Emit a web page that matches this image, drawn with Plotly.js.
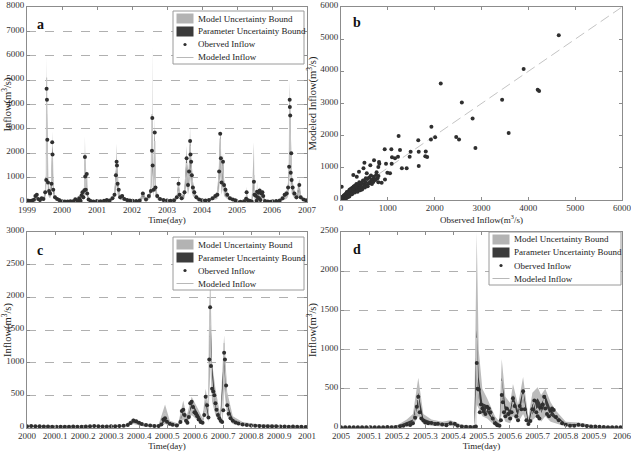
<!DOCTYPE html>
<html>
<head>
<meta charset="utf-8">
<script src="https://cdn.plot.ly/plotly-3.0.1.min.js"></script>
<style>
  html, body { margin: 0; padding: 0; background: #fff; }
  #chart { width: 631px; height: 451px; }
</style>
</head>
<body>
<div id="chart"></div>
<script>
// ---------- (a) calibration period 1999-2007, daily inflow (m3/s) ----------
const tA = [1999.00, 1999.05, 1999.10, 1999.15, 1999.20, 1999.24, 1999.28, 1999.32, 1999.37, 1999.42, 1999.47, 1999.52, 1999.55, 1999.56, 1999.57, 1999.58, 1999.60, 1999.63, 1999.66, 1999.70, 1999.72, 1999.73, 1999.75, 1999.80, 1999.86, 1999.92,
  2000.00, 2000.08, 2000.16, 2000.24, 2000.32, 2000.38, 2000.44, 2000.49, 2000.53, 2000.56, 2000.585, 2000.61, 2000.64, 2000.655, 2000.665, 2000.68, 2000.707, 2000.72, 2000.76, 2000.82, 2000.90,
  2001.00, 2001.10, 2001.20, 2001.28, 2001.36, 2001.44, 2001.50, 2001.54, 2001.56, 2001.57, 2001.59, 2001.62, 2001.66, 2001.72, 2001.78, 2001.86, 2001.94,
  2002.02, 2002.12, 2002.22, 2002.31, 2002.40, 2002.48, 2002.54, 2002.57, 2002.58, 2002.59, 2002.62, 2002.65, 2002.67, 2002.72, 2002.80, 2002.90,
  2003.00, 2003.10, 2003.20, 2003.28, 2003.33, 2003.36, 2003.42, 2003.50, 2003.56, 2003.60, 2003.63, 2003.66, 2003.67, 2003.69, 2003.71, 2003.74, 2003.78, 2003.84, 2003.92,
  2004.00, 2004.10, 2004.20, 2004.30, 2004.38, 2004.44, 2004.49, 2004.52, 2004.54, 2004.56, 2004.60, 2004.63, 2004.67, 2004.72, 2004.80, 2004.88, 2004.95,
  2005.00, 2005.10, 2005.20, 2005.26, 2005.275, 2005.30, 2005.36, 2005.42, 2005.483, 2005.50, 2005.53, 2005.56, 2005.572, 2005.59, 2005.612, 2005.63, 2005.648, 2005.67, 2005.70, 2005.726, 2005.75, 2005.80, 2005.88, 2005.95,
  2006.02, 2006.12, 2006.22, 2006.30, 2006.36, 2006.42, 2006.46, 2006.49, 2006.505, 2006.51, 2006.52, 2006.535, 2006.55, 2006.56, 2006.59, 2006.64, 2006.70, 2006.78, 2006.82, 2006.90, 2006.97];
const obsA = [60, 50, 45, 60, 90, 250, 300, 120, 80, 150, 120, 400, 900, 4650, 4200, 2550, 800, 450, 350, 750, 2450, 1950, 500, 200, 120, 80,
  30, 25, 20, 30, 35, 110, 40, 150, 50, 280, 400, 200, 480, 1850, 1050, 500, 1150, 350, 100, 40, 25,
  40, 35, 50, 80, 60, 150, 300, 1100, 1650, 1500, 750, 500, 200, 250, 120, 80, 60,
  50, 45, 60, 350, 100, 250, 450, 2100, 3450, 1500, 500, 2850, 600, 250, 120, 80,
  60, 50, 70, 200, 750, 300, 150, 400, 1800, 700, 1250, 2500, 1950, 1650, 1100, 600, 400, 200, 100,
  70, 60, 80, 150, 250, 300, 1250, 2800, 1800, 800, 1650, 700, 500, 300, 150, 100, 70,
  15, 12, 30, 130, 400, 80, 50, 20, 830, 300, 270, 50, 420, 200, 380, 150, 470, 80, 350, 400, 250, 40, 20, 12,
  30, 40, 60, 150, 300, 350, 600, 1450, 4200, 3900, 3550, 1200, 2000, 900, 600, 350, 200, 700, 200, 100, 70];
const simA = [55, 50, 48, 55, 80, 220, 260, 130, 90, 130, 110, 350, 1100, 5100, 3600, 2300, 900, 500, 400, 800, 2000, 1800, 550, 220, 130, 85,
  30, 25, 22, 28, 35, 100, 45, 180, 60, 250, 380, 220, 450, 2000, 1000, 520, 1200, 380, 110, 45, 28,
  40, 38, 48, 75, 62, 140, 320, 1000, 1500, 1300, 800, 450, 220, 230, 130, 85, 60,
  52, 48, 58, 300, 110, 230, 480, 3600, 3120, 1700, 550, 2500, 650, 270, 130, 85,
  62, 52, 68, 180, 700, 320, 160, 380, 1600, 800, 1300, 2300, 1900, 1500, 1000, 650, 420, 220, 110,
  72, 60, 78, 140, 230, 320, 1200, 2600, 1700, 850, 1500, 650, 520, 320, 160, 105, 72,
  15, 12, 28, 150, 380, 90, 55, 22, 1100, 320, 260, 60, 450, 220, 350, 170, 420, 100, 320, 380, 240, 45, 22, 14,
  30, 42, 58, 140, 280, 330, 560, 1300, 3900, 3700, 3400, 1300, 1900, 1000, 620, 370, 210, 650, 220, 110, 72];
const mLoA = [20, 20, 15, 20, 30, 100, 120, 50, 30, 60, 40, 150, 400, 2000, 1800, 1000, 300, 200, 150, 300, 900, 800, 200, 80, 50, 30,
  10, 10, 8, 10, 12, 40, 15, 60, 20, 100, 150, 80, 200, 800, 400, 200, 500, 150, 40, 15, 10,
  15, 12, 18, 30, 20, 60, 120, 400, 700, 600, 300, 180, 80, 90, 50, 30, 20,
  18, 15, 20, 120, 40, 90, 180, 900, 1500, 600, 200, 1100, 250, 100, 50, 30,
  20, 18, 25, 70, 280, 120, 60, 150, 700, 300, 500, 1000, 800, 650, 400, 250, 160, 80, 40,
  25, 20, 30, 60, 90, 120, 500, 1100, 700, 300, 650, 250, 200, 120, 60, 40, 25,
  5, 4, 10, 50, 150, 30, 18, 8, 300, 120, 100, 20, 160, 80, 140, 60, 180, 30, 130, 150, 90, 15, 8, 5,
  10, 15, 20, 55, 110, 130, 220, 550, 1700, 1600, 1400, 500, 800, 350, 240, 140, 80, 260, 80, 40, 25];
const mHiA = [90, 80, 75, 90, 130, 330, 380, 180, 130, 200, 170, 520, 1300, 5950, 4500, 2900, 1050, 600, 480, 1000, 2900, 2300, 700, 290, 170, 110,
  45, 40, 35, 45, 55, 150, 70, 300, 90, 380, 520, 300, 650, 2700, 1300, 650, 1400, 480, 150, 65, 45,
  60, 55, 70, 120, 90, 200, 450, 1400, 2400, 1800, 1000, 650, 300, 320, 180, 120, 90,
  75, 70, 85, 450, 150, 330, 650, 2600, 6400, 2000, 750, 3500, 850, 360, 180, 120,
  90, 75, 100, 270, 1100, 420, 220, 550, 2300, 1000, 1600, 3100, 2400, 2000, 1400, 850, 560, 300, 150,
  105, 90, 115, 210, 340, 450, 1600, 2950, 2200, 1100, 2000, 900, 700, 450, 220, 150, 105,
  25, 22, 45, 280, 630, 130, 80, 35, 2450, 480, 380, 90, 870, 320, 520, 230, 650, 130, 480, 500, 350, 65, 35, 22,
  45, 60, 85, 210, 420, 480, 800, 1900, 5000, 4600, 4200, 1700, 2600, 1300, 850, 500, 300, 950, 300, 150, 105];
const pLoA = [40, 35, 35, 40, 60, 180, 200, 100, 70, 100, 80, 280, 800, 4000, 3000, 1800, 700, 380, 300, 600, 1600, 1400, 420, 170, 100, 65,
  20, 18, 15, 20, 25, 80, 30, 130, 40, 190, 300, 170, 350, 1500, 800, 420, 950, 300, 85, 35, 20,
  30, 28, 38, 60, 48, 110, 250, 800, 1200, 1050, 650, 360, 170, 180, 100, 65, 48,
  40, 36, 45, 240, 85, 180, 380, 1600, 2800, 1300, 440, 2000, 520, 210, 100, 65,
  48, 40, 55, 140, 560, 250, 120, 300, 1300, 650, 1050, 1850, 1500, 1200, 800, 520, 340, 170, 85,
  55, 48, 60, 110, 180, 250, 950, 2100, 1350, 680, 1200, 520, 420, 250, 120, 80, 55,
  10, 8, 20, 110, 300, 70, 40, 15, 700, 250, 200, 45, 350, 170, 280, 130, 330, 75, 250, 300, 190, 35, 16, 10,
  22, 32, 45, 110, 220, 260, 450, 1050, 3200, 3000, 2700, 1050, 1500, 800, 500, 300, 170, 520, 170, 85, 55];
const pHiA = [75, 65, 60, 70, 100, 260, 310, 160, 110, 160, 140, 420, 1000, 4700, 4000, 2500, 900, 520, 420, 800, 2300, 2000, 600, 250, 150, 100,
  40, 35, 30, 38, 45, 130, 60, 200, 70, 300, 440, 250, 520, 1900, 1100, 560, 1200, 420, 120, 55, 36,
  52, 48, 60, 95, 78, 175, 360, 1150, 1700, 1550, 850, 540, 240, 270, 150, 100, 72,
  65, 60, 72, 360, 120, 270, 520, 2200, 3500, 1700, 600, 2900, 700, 300, 150, 100,
  78, 65, 85, 210, 800, 360, 180, 440, 1850, 850, 1350, 2550, 2050, 1700, 1150, 700, 480, 240, 125,
  90, 75, 95, 170, 280, 360, 1300, 2850, 1850, 900, 1700, 750, 580, 360, 180, 125, 88,
  20, 16, 36, 170, 440, 100, 62, 28, 1000, 360, 300, 70, 500, 240, 400, 190, 500, 110, 370, 430, 270, 52, 27, 18,
  38, 50, 70, 165, 320, 380, 640, 1500, 4250, 4000, 3600, 1350, 2050, 1050, 680, 410, 240, 750, 240, 125, 85];

// ---------- (b) observed vs modeled inflow, calibration ----------
const obsB = [5, 10, 15, 20, 25, 30, 35, 40, 45, 50, 55, 60, 65, 70, 75, 80, 85, 90, 95, 100, 105, 110, 115, 120, 125, 130, 135, 140, 145, 150,
  160, 165, 170, 175, 180, 185, 190, 195, 200, 210, 215, 220, 230, 240, 250, 260, 270, 280, 290, 300,
  310, 320, 330, 340, 350, 360, 370, 380, 390, 400, 420, 440, 460, 480, 500, 520, 540, 560, 580, 600,
  620, 650, 680, 700, 720, 750, 780, 800,
  15, 263, 384, 337, 550, 480, 797, 939, 868, 500, 705, 626, 812, 819, 797, 961, 1082, 990, 1047,
  933, 1075, 1260, 1217, 1089, 1153, 1230, 1487, 1466, 1402, 1300, 1650, 1660, 1660, 1810, 1800, 1840, 1930, 2010, 1920,
  2130, 2580, 2810, 2870, 2460, 2520, 3440, 3580, 3900, 4200, 4230, 4650,
  12, 28, 42, 58, 72, 88, 102, 118, 132, 148, 62, 34, 22, 8, 155, 178, 205, 235, 265, 295,
  325, 355, 410, 430, 450, 470, 510, 530, 570, 610, 640, 660, 690, 740, 760];
const simB = [10, 30, 5, 40, 15, 60, 25, 80, 35, 100, 50, 20, 120, 70, 40, 150, 90, 60, 180, 110, 80, 200, 130, 100, 250, 150, 90, 220, 170, 120,
  260, 190, 140, 300, 210, 160, 330, 240, 180, 280, 350, 200, 300, 380, 260, 330, 420, 290, 350, 450,
  320, 380, 500, 350, 420, 300, 480, 400, 550, 360, 460, 520, 400, 600, 480, 560, 450, 650, 520, 700,
  560, 640, 600, 720, 650, 780, 680, 750,
  410, 777, 880, 725, 830, 985, 555, 637, 533, 1160, 1233, 1078, 1182, 1130, 1026, 1130, 1130, 850, 830,
  1575, 1575, 1554, 1347, 1326, 1295, 1990, 1503, 1347, 985, 985, 1860, 1500, 1060, 1510, 1360, 1340, 2280, 1950, 1880,
  3620, 3030, 2530, 1620, 1960, 1880, 3120, 2080, 4070, 3430, 3390, 5120,
  60, 20, 110, 30, 150, 50, 170, 60, 230, 90, 140, 90, 70, 50, 210, 110, 320, 180, 340, 230,
  410, 260, 300, 540, 330, 610, 390, 680, 430, 520, 760, 500, 560, 620, 860];
const oneToOne = [0, 6000];

// ---------- (c) year 2000 ----------
const tC = [2000.000, 2000.015, 2000.030, 2000.045, 2000.060, 2000.075, 2000.090, 2000.105, 2000.120, 2000.135, 2000.150, 2000.165, 2000.180, 2000.195, 2000.210, 2000.225, 2000.240, 2000.255, 2000.270, 2000.285, 2000.300, 2000.315, 2000.330, 2000.345, 2000.360,
  2000.370, 2000.380, 2000.390, 2000.400, 2000.410, 2000.425, 2000.440, 2000.455, 2000.470,
  2000.480, 2000.487, 2000.493, 2000.500, 2000.510, 2000.520, 2000.535,
  2000.548, 2000.553, 2000.558, 2000.563, 2000.568, 2000.573, 2000.578, 2000.583, 2000.588, 2000.593, 2000.598, 2000.603, 2000.608, 2000.613, 2000.620, 2000.627,
  2000.633, 2000.638, 2000.643, 2000.648, 2000.651, 2000.654, 2000.657, 2000.661, 2000.665, 2000.669, 2000.673, 2000.677, 2000.682, 2000.687, 2000.692, 2000.697,
  2000.701, 2000.704, 2000.707, 2000.711, 2000.715, 2000.720, 2000.727, 2000.735, 2000.745, 2000.755, 2000.770, 2000.785, 2000.800,
  2000.815, 2000.830, 2000.845, 2000.860, 2000.875, 2000.890, 2000.905, 2000.920, 2000.935, 2000.950, 2000.965, 2000.980, 2000.995];
const obsC = [28, 30, 27, 25, 24, 22, 20, 21, 19, 18, 20, 22, 21, 20, 23, 26, 30, 27, 24, 22, 25, 28, 30, 34, 45,
  75, 115, 105, 80, 60, 45, 38, 32, 30,
  55, 130, 150, 95, 65, 50, 40,
  90, 260, 280, 200, 110, 80, 170, 380, 400, 320, 240, 220, 180, 130, 90, 80,
  200, 480, 350, 160, 1050, 1850, 950, 600, 560, 500, 380, 280, 200, 150, 110, 90,
  270, 1150, 1050, 650, 350, 220, 150, 110, 85, 70, 55, 45, 38,
  33, 30, 28, 26, 25, 27, 24, 22, 21, 23, 20, 18, 17];
const simC = [30, 29, 28, 26, 25, 23, 22, 21, 20, 20, 21, 22, 22, 21, 23, 25, 28, 27, 25, 24, 25, 27, 30, 36, 50,
  85, 105, 100, 82, 62, 48, 40, 34, 31,
  80, 200, 230, 120, 70, 52, 42,
  110, 240, 260, 190, 120, 90, 200, 360, 380, 300, 250, 210, 170, 120, 95, 85,
  230, 450, 380, 300, 1400, 2000, 1100, 650, 580, 480, 370, 270, 200, 150, 115, 95,
  400, 1300, 1000, 600, 330, 210, 150, 110, 88, 72, 57, 47, 40,
  35, 32, 29, 27, 26, 26, 24, 23, 22, 22, 20, 19, 18];
const tBandC = [2000.00, 2000.05, 2000.10, 2000.15, 2000.20, 2000.25, 2000.30, 2000.35, 2000.38, 2000.42, 2000.47, 2000.493, 2000.51, 2000.54, 2000.558, 2000.57, 2000.588, 2000.61, 2000.627, 2000.638, 2000.648, 2000.654, 2000.661, 2000.673, 2000.69, 2000.704, 2000.715, 2000.735, 2000.77, 2000.82, 2000.88, 2000.94, 2001.00];
const mLoC = [12, 11, 10, 9, 10, 12, 11, 15, 60, 20, 12, 60, 30, 18, 130, 50, 200, 110, 50, 250, 90, 1000, 400, 200, 60, 600, 180, 60, 30, 18, 14, 12, 10];
const mHiC = [45, 42, 38, 36, 38, 45, 42, 55, 150, 70, 50, 360, 110, 70, 420, 180, 480, 300, 150, 600, 350, 2550, 1000, 600, 200, 1420, 550, 180, 90, 60, 45, 40, 35];
const pLoC = [20, 18, 16, 15, 16, 20, 18, 26, 85, 33, 22, 100, 50, 32, 220, 80, 330, 170, 70, 380, 140, 1500, 750, 320, 95, 950, 290, 95, 45, 30, 22, 19, 16];
const pHiC = [32, 30, 27, 25, 27, 32, 30, 40, 115, 50, 36, 170, 75, 48, 290, 120, 400, 230, 100, 470, 200, 1900, 960, 400, 130, 1160, 380, 125, 62, 42, 32, 28, 24];
const ticksC = [2000, 2000.1, 2000.2, 2000.3, 2000.4, 2000.5, 2000.6, 2000.7, 2000.8, 2000.9, 2001];

// ---------- (d) year 2005 ----------
const tD = [2005.000, 2005.015, 2005.030, 2005.045, 2005.060, 2005.075, 2005.090, 2005.105, 2005.120, 2005.135, 2005.150, 2005.165, 2005.180, 2005.195,
  2005.210, 2005.222, 2005.234, 2005.246, 2005.256, 2005.264, 2005.270, 2005.275, 2005.280, 2005.286, 2005.293, 2005.300, 2005.310, 2005.322, 2005.335, 2005.345,
  2005.360, 2005.375, 2005.390, 2005.405, 2005.415, 2005.430, 2005.445, 2005.460, 2005.474,
  2005.480, 2005.483, 2005.486, 2005.490, 2005.494, 2005.498, 2005.503, 2005.508, 2005.514, 2005.520, 2005.526, 2005.532, 2005.540, 2005.548, 2005.556, 2005.564,
  2005.569, 2005.572, 2005.576, 2005.580, 2005.585, 2005.590, 2005.596, 2005.602, 2005.607, 2005.612, 2005.618, 2005.624, 2005.630, 2005.636, 2005.642, 2005.648,
  2005.654, 2005.660, 2005.667, 2005.674, 2005.681, 2005.688, 2005.695, 2005.700, 2005.706, 2005.712, 2005.718, 2005.723, 2005.727, 2005.733, 2005.740, 2005.746,
  2005.751, 2005.757, 2005.765, 2005.775, 2005.787, 2005.800, 2005.815, 2005.830, 2005.845, 2005.860, 2005.875, 2005.890, 2005.905, 2005.920, 2005.935, 2005.950, 2005.965, 2005.980, 2005.995];
const obsD = [10, 9, 10, 8, 9, 8, 9, 10, 8, 9, 10, 12, 11, 14,
  22, 30, 45, 38, 60, 130, 270, 400, 200, 120, 95, 70, 60, 65, 50, 55,
  45, 35, 60, 55, 30, 20, 16, 14, 12,
  20, 830, 500, 490, 200, 300, 250, 210, 180, 270, 250, 200, 120, 60, 35, 30,
  100, 420, 330, 200, 150, 250, 180, 120, 200, 380, 280, 150, 100, 280, 240, 470,
  240, 100, 50, 90, 240, 350, 200, 150, 120, 260, 300, 400, 250, 180, 150, 220,
  250, 230, 140, 100, 60, 40, 30, 28, 40, 35, 25, 20, 18, 15, 12, 10, 9, 8, 10];
const simD = [11, 10, 10, 9, 9, 9, 9, 10, 9, 9, 10, 12, 12, 15,
  24, 35, 55, 45, 80, 170, 350, 380, 210, 130, 100, 78, 65, 62, 55, 52,
  46, 38, 58, 52, 32, 22, 17, 15, 13,
  40, 1150, 600, 450, 260, 280, 240, 220, 200, 250, 230, 190, 130, 70, 40, 32,
  160, 600, 380, 220, 160, 230, 190, 130, 220, 330, 260, 160, 110, 250, 260, 430,
  250, 120, 60, 100, 220, 330, 220, 160, 130, 240, 290, 370, 260, 190, 160, 210,
  240, 220, 150, 105, 65, 45, 33, 30, 38, 34, 26, 21, 19, 16, 13, 11, 10, 9, 10];
const tBandD = [2005.00, 2005.05, 2005.10, 2005.15, 2005.20, 2005.234, 2005.256, 2005.275, 2005.293, 2005.322, 2005.36, 2005.39, 2005.43, 2005.474, 2005.483, 2005.490, 2005.503, 2005.520, 2005.548, 2005.564, 2005.572, 2005.585, 2005.602, 2005.612, 2005.630, 2005.648, 2005.667, 2005.681, 2005.700, 2005.712, 2005.727, 2005.746, 2005.765, 2005.800, 2005.845, 2005.90, 2005.95, 2006.00];
const mLoD = [4, 4, 4, 4, 8, 20, 30, 150, 50, 30, 20, 25, 8, 6, 300, 250, 150, 120, 30, 15, 200, 80, 60, 150, 70, 180, 25, 100, 160, 80, 150, 80, 60, 20, 15, 8, 5, 4];
const mHiD = [20, 18, 18, 20, 35, 110, 180, 640, 180, 110, 80, 100, 40, 30, 2500, 1000, 500, 380, 150, 80, 880, 400, 320, 560, 300, 650, 130, 450, 520, 420, 500, 330, 220, 80, 70, 35, 22, 20];
const pLoD = [7, 6, 6, 7, 14, 40, 60, 300, 80, 50, 35, 45, 14, 10, 600, 380, 220, 200, 55, 28, 400, 180, 140, 300, 150, 360, 45, 180, 260, 190, 300, 160, 110, 32, 30, 14, 9, 7];
const pHiD = [14, 13, 13, 14, 24, 70, 110, 450, 120, 80, 55, 70, 25, 20, 1250, 650, 320, 290, 95, 50, 640, 280, 230, 420, 220, 500, 85, 300, 380, 300, 420, 240, 160, 55, 48, 24, 16, 14];
const ticksD = [2005, 2005.1, 2005.2, 2005.3, 2005.4, 2005.5, 2005.6, 2005.7, 2005.8, 2005.9, 2006];

// ---------- labels ----------
const legendLabels = ['Model Uncertainty Bound', 'Parameter Uncertainty Bound', 'Oberved Inflow', 'Modeled Inflow'];
const timeTitle = 'Time(day)';
const inflowTitle = 'Inflow(m<sup>3</sup>/s)';
const obsTitle = 'Observed Inflow(m<sup>3</sup>/s)';
const simTitle = 'Modeled Inflow(m<sup>3</sup>/s)';
const panelTags = ['a', 'b', 'c', 'd'];

// ---------- styling ----------
const W = 631, H = 451;
const SERIF = 'Liberation Serif, Times New Roman, serif';
const C_MODEL = '#bcbcbc';
const C_PARAM = '#3b3b3b';
const C_OBS = '#2f2f2f';
const C_SIM = '#c6c6c6';
const C_FRAME = '#8c8c8c';

const X = v => v / W;
const Y = v => 1 - v / H;

// plot boxes in page pixels: [left, top, right, bottom]
const boxes = {
  a: [27, 7, 307, 202],
  b: [341, 7, 622, 200],
  c: [27, 232, 307, 428],
  d: [341, 232, 622, 428]
};

function baseAxis(extra) {
  return Object.assign({
    showline: true, mirror: 'ticks', linecolor: C_FRAME, linewidth: 1,
    ticks: 'inside', ticklen: 3, tickcolor: C_FRAME, tickwidth: 1,
    tickfont: { family: SERIF, size: 9, color: '#333' },
    tickangle: 0, ticklabeloverflow: 'allow',
    zeroline: false, showgrid: false, fixedrange: true
  }, extra);
}
function xAx(box, extra) {
  return baseAxis(Object.assign({ domain: [X(box[0]), X(box[2])], ticklabelstandoff: -1 }, extra));
}
function yAx(box, extra) {
  // labels nudged up a hair so the bottom "0" clears the first x label
  return baseAxis(Object.assign({ domain: [Y(box[3]), Y(box[1])], ticklabelshift: -2 }, extra));
}
const gridY = { showgrid: true, gridcolor: '#b0b0b0', griddash: 'dash', gridwidth: 1 };
const xTitle = txt => ({ text: txt, font: { family: SERIF, size: 9, color: '#222' }, standoff: 2 });
const yTitle = txt => ({ text: txt, font: { family: SERIF, size: 10.5, color: '#222' }, standoff: 1 });
// decimal-year ticks: "2000", "2000.1", ... without thousands separators
const yearFrac = '.5~r';

// uncertainty bands + modeled line + observed dots for a time-series panel
function seriesTraces(xa, ya, t, obs, sim, tb, mLo, mHi, pLo, pHi) {
  const common = { xaxis: xa, yaxis: ya, showlegend: false, hoverinfo: 'skip' };
  return [
    Object.assign({ type: 'scatter', mode: 'lines', x: tb, y: mLo, line: { width: 0, color: C_MODEL } }, common),
    Object.assign({ type: 'scatter', mode: 'lines', x: tb, y: mHi, fill: 'tonexty', fillcolor: C_MODEL, line: { width: 0, color: C_MODEL } }, common),
    Object.assign({ type: 'scatter', mode: 'lines', x: tb, y: pLo, line: { width: 0, color: C_PARAM } }, common),
    Object.assign({ type: 'scatter', mode: 'lines', x: tb, y: pHi, fill: 'tonexty', fillcolor: C_PARAM, line: { width: 0, color: C_PARAM } }, common),
    Object.assign({ type: 'scatter', mode: 'lines', x: t, y: sim, line: { width: 1, color: C_SIM } }, common),
    Object.assign({ type: 'scatter', mode: 'markers', x: t, y: obs, marker: { size: 4, color: C_OBS } }, common)
  ];
}

const data = [].concat(
  seriesTraces('x', 'y', tA, obsA, simA, tA, mLoA, mHiA, pLoA, pHiA),
  [
    { type: 'scatter', mode: 'lines', x: oneToOne, y: oneToOne, xaxis: 'x2', yaxis: 'y2',
      line: { color: '#c4c4c4', width: 1, dash: '10px,5px' }, showlegend: false, hoverinfo: 'skip' },
    { type: 'scatter', mode: 'markers', x: obsB, y: simB, xaxis: 'x2', yaxis: 'y2',
      marker: { size: 4, color: C_OBS }, showlegend: false }
  ],
  seriesTraces('x3', 'y3', tC, obsC, simC, tBandC, mLoC, mHiC, pLoC, pHiC),
  seriesTraces('x4', 'y4', tD, obsD, simD, tBandD, mLoD, mHiD, pLoD, pHiD)
);

// hand-built legend box (page pixel geometry)
function legendBlock(left, top, right) {
  const rows = [top + 7.5, top + 20.5, top + 33.5, top + 46.5];
  const bottom = top + 53;
  const sw0 = left + 3.5, sw1 = left + 20.5, tx = left + 23;
  const shapes = [
    { type: 'rect', xref: 'paper', yref: 'paper', x0: X(left), x1: X(right), y0: Y(bottom), y1: Y(top),
      fillcolor: '#fff', line: { color: '#9a9a9a', width: 1 }, layer: 'above' },
    { type: 'rect', xref: 'paper', yref: 'paper', x0: X(sw0), x1: X(sw1), y0: Y(rows[0] + 5), y1: Y(rows[0] - 5),
      fillcolor: '#b3b3b3', line: { width: 0 }, layer: 'above' },
    { type: 'rect', xref: 'paper', yref: 'paper', x0: X(sw0), x1: X(sw1), y0: Y(rows[1] + 5), y1: Y(rows[1] - 5),
      fillcolor: C_PARAM, line: { width: 0 }, layer: 'above' },
    { type: 'circle', xref: 'paper', yref: 'paper', x0: X((sw0 + sw1) / 2 - 1.6), x1: X((sw0 + sw1) / 2 + 1.6),
      y0: Y(rows[2] + 1.6), y1: Y(rows[2] - 1.6), fillcolor: C_OBS, line: { width: 0 }, layer: 'above' },
    { type: 'line', xref: 'paper', yref: 'paper', x0: X(sw0), x1: X(sw1), y0: Y(rows[3]), y1: Y(rows[3]),
      line: { color: '#b8b8b8', width: 1 }, layer: 'above' }
  ];
  const annotations = legendLabels.map((txt, i) => ({
    xref: 'paper', yref: 'paper', x: X(tx), y: Y(rows[i]), xanchor: 'left', yanchor: 'middle',
    text: txt, showarrow: false, font: { family: SERIF, size: 9, color: '#222' }
  }));
  return { shapes, annotations };
}

const legA = legendBlock(173, 11, 304);
const legC = legendBlock(173, 237, 304);
const legD = legendBlock(489, 232, 621);

const tagPos = [[40, 24], [357, 22], [40, 250], [357, 249]];
const tagAnn = panelTags.map((s, i) => ({
  xref: 'paper', yref: 'paper', x: X(tagPos[i][0]), y: Y(tagPos[i][1]), xanchor: 'center', yanchor: 'middle',
  text: '<b>' + s + '</b>', showarrow: false, font: { family: SERIF, size: 14, color: '#111' }
}));

const layout = {
  width: W, height: H,
  margin: { l: 0, r: 0, t: 0, b: 0 },
  paper_bgcolor: '#fff', plot_bgcolor: '#fff',
  showlegend: false,
  xaxis: xAx(boxes.a, { anchor: 'y', range: [1999, 2007], tick0: 1999, dtick: 1, tickformat: 'd', title: xTitle(timeTitle) }),
  yaxis: yAx(boxes.a, Object.assign({ anchor: 'x', range: [0, 8000], dtick: 1000, tickformat: 'd', title: yTitle(inflowTitle) }, gridY)),
  xaxis2: xAx(boxes.b, { anchor: 'y2', range: [0, 6000], dtick: 1000, tickformat: 'd', title: xTitle(obsTitle) }),
  yaxis2: yAx(boxes.b, { anchor: 'x2', range: [0, 6000], dtick: 1000, tickformat: 'd', title: yTitle(simTitle) }),
  xaxis3: xAx(boxes.c, { anchor: 'y3', range: [2000, 2001], tickmode: 'array', tickvals: ticksC, tickformat: yearFrac, title: xTitle(timeTitle) }),
  yaxis3: yAx(boxes.c, Object.assign({ anchor: 'x3', range: [0, 3000], dtick: 500, tickformat: 'd', title: yTitle(inflowTitle) }, gridY)),
  xaxis4: xAx(boxes.d, { anchor: 'y4', range: [2005, 2006], tickmode: 'array', tickvals: ticksD, tickformat: yearFrac, title: xTitle(timeTitle) }),
  yaxis4: yAx(boxes.d, Object.assign({ anchor: 'x4', range: [0, 2500], dtick: 500, tickformat: 'd', title: yTitle(inflowTitle) }, gridY)),
  shapes: [].concat(legA.shapes, legC.shapes, legD.shapes),
  annotations: [].concat(tagAnn, legA.annotations, legC.annotations, legD.annotations)
};

Plotly.newPlot('chart', data, layout, { displayModeBar: false, staticPlot: true });
</script>
</body>
</html>
